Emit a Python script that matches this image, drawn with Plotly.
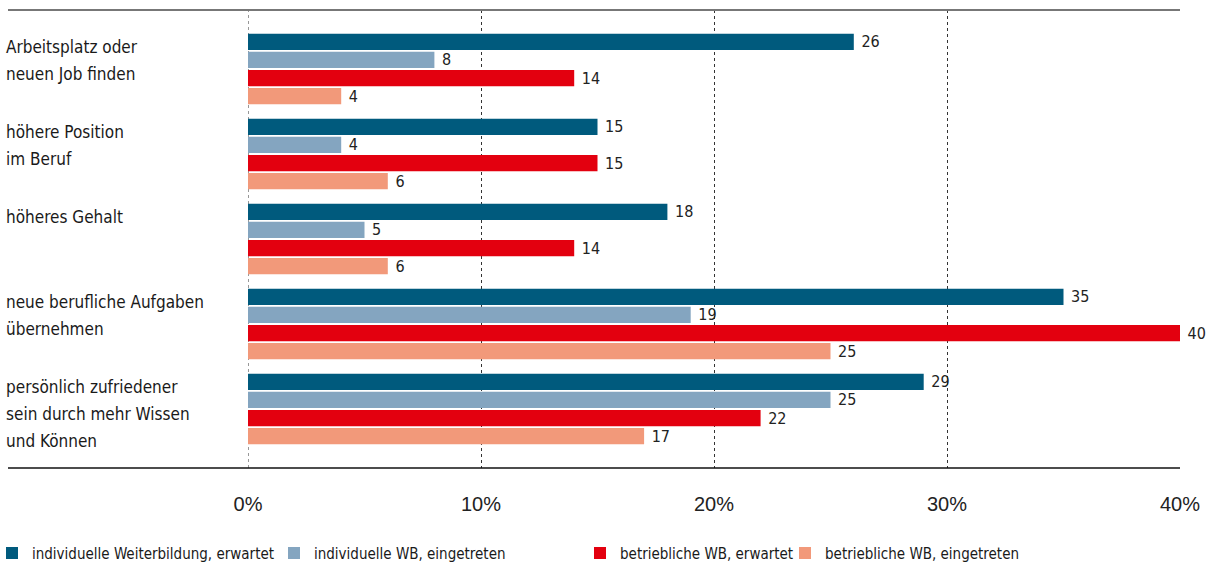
import plotly.graph_objects as go

# Reasons / expected benefits of further training (share in %)
categories = [
    "Arbeitsplatz oder neuen Job finden",
    "höhere Position im Beruf",
    "höheres Gehalt",
    "neue berufliche Aufgaben übernehmen",
    "persönlich zufriedener sein durch mehr Wissen und Können",
]
category_lines = [
    ["Arbeitsplatz oder", "neuen Job finden"],
    ["höhere Position", "im Beruf"],
    ["höheres Gehalt"],
    ["neue berufliche Aufgaben", "übernehmen"],
    ["persönlich zufriedener", "sein durch mehr Wissen", "und Können"],
]

series_names = [
    "individuelle Weiterbildung, erwartet",
    "individuelle WB, eingetreten",
    "betriebliche WB, erwartet",
    "betriebliche WB, eingetreten",
]
ind_erwartet = [26, 15, 18, 35, 29]
ind_eingetreten = [8, 4, 5, 19, 25]
betr_erwartet = [14, 15, 14, 40, 22]
betr_eingetreten = [4, 6, 6, 25, 17]

x_ticks = [0, 10, 20, 30, 40]
x_tick_labels = ["0%", "10%", "20%", "30%", "40%"]

colors = ["#005A7D", "#84A5C0", "#E3000F", "#F2997A"]
narrow = "Liberation Sans Narrow, DejaVu Sans Condensed, Arial Narrow, sans-serif"

plot_left, plot_w = 248, 932
legend_ids = ["legend", "legend2", "legend3", "legend4"]
legend_px = [-8, 274, 580, 785]   # left edge of each legend entry, px from page left

fig = go.Figure()
for name, vals, col, lid in zip(series_names,
                                [ind_erwartet, ind_eingetreten, betr_erwartet, betr_eingetreten],
                                colors, legend_ids):
    fig.add_trace(go.Bar(
        y=categories, x=vals, name=name, orientation="h",
        marker=dict(color=col, line=dict(width=0)),
        text=vals, texttemplate="\u00a0%{text}", textposition="outside",
        constraintext="none",
        textfont=dict(family=narrow, size=16, color="#222222"),
        cliponaxis=False, legend=lid,
    ))

# Left-aligned category labels, one annotation per line
label_x = (4 - plot_left) / plot_w
line_x = (8 - plot_left) / plot_w
for cat, lines in zip(categories, category_lines):
    for i, line in enumerate(lines):
        fig.add_annotation(
            x=label_x, xref="paper", y=cat, yref="y",
            text=line, showarrow=False, xanchor="left", yanchor="middle",
            yshift=22 - 27 * i,
            font=dict(family=narrow, size=17, color="#1a1a1a"),
        )

# Top and bottom rules across the full width, dotted line at 0
fig.add_shape(type="line", xref="paper", yref="paper", x0=line_x, x1=1, y0=1, y1=1,
              line=dict(color="#777777", width=2))
fig.add_shape(type="line", xref="paper", yref="paper", x0=line_x, x1=1, y0=0, y1=0,
              line=dict(color="#111111", width=1.5))
fig.add_shape(type="line", xref="x", yref="paper", x0=0, x1=0, y0=0, y1=1,
              line=dict(color="#777777", width=1.5, dash="dot"), layer="below")

legend_style = dict(orientation="h", xanchor="left", y=-0.186, yanchor="middle",
                    font=dict(family=narrow, size=15, color="#1a1a1a"),
                    bgcolor="rgba(0,0,0,0)")
layout_legends = {lid: dict(legend_style, x=(px - plot_left) / plot_w)
                  for lid, px in zip(legend_ids, legend_px)}

fig.update_layout(
    width=1210, height=567,
    margin=dict(l=plot_left, r=30, t=10, b=99, autoexpand=False),
    paper_bgcolor="white", plot_bgcolor="white",
    barmode="group", bargap=0.15, bargroupgap=0.1,
    showlegend=True,
    xaxis=dict(range=[0, 40], tickvals=x_ticks, ticktext=x_tick_labels,
               showgrid=True, gridcolor="#333333", griddash="dot", gridwidth=1,
               zeroline=False, showline=False, ticks="",
               ticklabelstandoff=22,
               tickfont=dict(family="Liberation Sans, Arial, sans-serif", size=20, color="#222222")),
    yaxis=dict(range=[4.694, -0.694], showticklabels=False, showgrid=False,
               zeroline=False, showline=False, ticks=""),
    **layout_legends,
)

fig.write_html("out.html")
